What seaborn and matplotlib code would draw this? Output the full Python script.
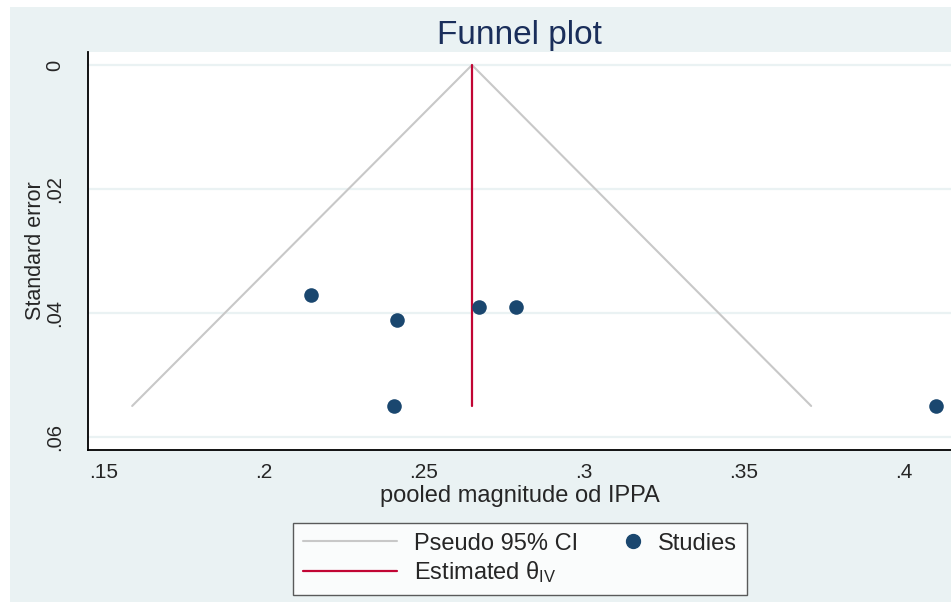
import numpy as np
import pandas as pd
import matplotlib.pyplot as plt
import matplotlib.patches as mpatches
from matplotlib.lines import Line2D
from matplotlib.legend_handler import HandlerBase
import seaborn as sns

sns.set_style('white')
plt.rcParams['font.family'] = ['Liberation Sans', 'DejaVu Sans']
plt.rcParams['mathtext.fontset'] = 'custom'
plt.rcParams['mathtext.rm'] = 'Liberation Sans'
plt.rcParams['mathtext.it'] = 'Liberation Sans'

# study estimates
effect = [0.2147, 0.2416, 0.2406, 0.2672, 0.2788, 0.4100]
std_err = [0.0371, 0.0411, 0.0550, 0.0390, 0.0390, 0.0550]
theta_iv = 0.265
se_max = 0.055
ci_ends = [0.1588, 0.3710]  # pseudo 95% CI at se_max

x_ticks = [0.15, 0.2, 0.25, 0.3, 0.35, 0.4]
x_labels = ['.15', '.2', '.25', '.3', '.35', '.4']
y_ticks = [0, 0.02, 0.04, 0.06]
y_labels = ['0', '.02', '.04', '.06']

bg = '#eaf2f3'
navy = '#1a476f'
red = '#c10534'
grey = '#c8c8c8'

df = pd.DataFrame({'effect': effect, 'se': std_err})
funnel = pd.DataFrame({
    'x': [ci_ends[0], theta_iv, ci_ends[1]],
    'y': [se_max, 0, se_max],
})


class DotAtRight(HandlerBase):
    # put the marker at the right end of the handle box, like Stata does
    def create_artists(self, legend, orig_handle, xdescent, ydescent,
                       width, height, fontsize, trans):
        m = Line2D([width - xdescent - 9 / 1.389], [height / 2 - ydescent],
                   marker='o', ls='none', color=navy, markersize=10)
        m.set_transform(trans)
        return [m]


fig = plt.figure(figsize=(9.51, 6.02), dpi=100)
fig.patch.set_facecolor('white')
fig.add_artist(mpatches.Rectangle((10 / 951, 0), 1, 1 - 7 / 602,
                                  transform=fig.transFigure,
                                  facecolor=bg, edgecolor='none', zorder=0))
ax = fig.add_axes([88 / 951, 1 - 450 / 602, 1 - 88 / 951, (450 - 52) / 602])
ax.set_facecolor('white')

for t in y_ticks:
    ax.axhline(t, color=bg, lw=1.6, zorder=1)

ax.plot(funnel['x'], funnel['y'], color=grey, lw=1.5, zorder=2)
ax.plot([theta_iv, theta_iv], [0, se_max], color=red, lw=1.6, zorder=3)
sns.scatterplot(data=df, x='effect', y='se', ax=ax, color=navy, s=110,
                edgecolor=navy, linewidth=0, zorder=4, legend=False)

ax.set_xlim(0.145, 0.4147)
ax.set_ylim(0.0621, -0.0021)
ax.set_xticks(x_ticks)
ax.set_xticklabels(x_labels, fontsize=15)
ax.set_yticks(y_ticks)
ax.set_yticklabels(y_labels, fontsize=14.5, rotation=90, va='center')
ax.tick_params(axis='x', direction='out', length=6, width=1.2,
               color='black', pad=3)
ax.tick_params(axis='y', direction='out', length=8, width=1.2,
               color='black', pad=9)
for s in ['top', 'right']:
    ax.spines[s].set_visible(False)
for s in ['left', 'bottom']:
    ax.spines[s].set_color('black')
    ax.spines[s].set_linewidth(1.3)

ax.set_xlabel('pooled magnitude od IPPA', fontsize=17)
ax.xaxis.set_label_coords(0.5, -0.088)
ax.set_ylabel('Standard error', fontsize=15.5)
ax.yaxis.set_label_coords(-0.049, 0.5)

fig.text(519.5 / 951, 1 - 44 / 602, 'Funnel plot', fontsize=24,
         color='#1a2e5a', ha='center', va='baseline')

handles = [
    Line2D([], [], color=grey, lw=1.5),
    Line2D([], [], color=red, lw=1.6),
    Line2D([], [], color=navy, marker='o', ls='none', markersize=10),
]
labels = ['Pseudo 95% CI', r'Estimated $\theta_{\mathrm{IV}}$', 'Studies']
leg = fig.legend(handles, labels, ncol=2, loc='center',
                 bbox_to_anchor=(520 / 951, 1 - 559 / 602),
                 fontsize=17, frameon=True, fancybox=False,
                 handlelength=4.0, columnspacing=-1.3, handletextpad=0.7,
                 labelspacing=0.2, borderpad=0.4,
                 handler_map={handles[2]: DotAtRight()})
leg.get_frame().set_edgecolor('#333333')
leg.get_frame().set_linewidth(1.0)

fig.savefig('out.png', dpi=100)
